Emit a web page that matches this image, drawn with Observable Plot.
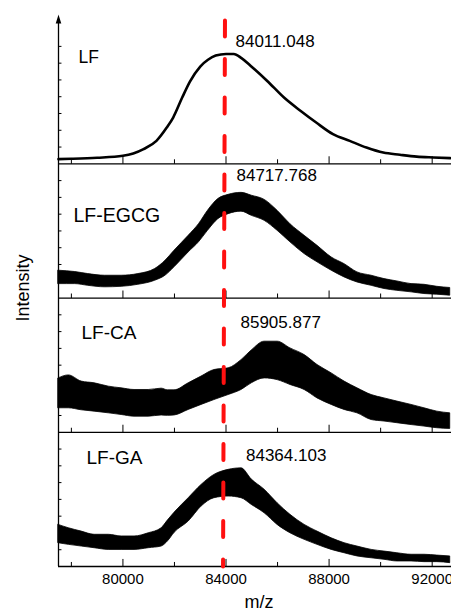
<!DOCTYPE html>
<html>
<head>
<meta charset="utf-8">
<script src="https://cdn.jsdelivr.net/npm/d3@7"></script>
<script src="https://cdn.jsdelivr.net/npm/@observablehq/plot@0.6"></script>
<style>
  html, body { margin: 0; padding: 0; background: #fff; }
  #chart svg { display: block; }
</style>
</head>
<body>
<div id="chart"></div>
<script>
// ---------------- data ----------------
const samples = ["LF", "LF-EGCG", "LF-CA", "LF-GA"];
const peakLabels = ["84011.048", "84717.768", "85905.877", "84364.103"];

// LF (smooth, thin trace)
const mzLF = [77500, 78000, 79000, 80000, 80400, 80800, 81300, 81700, 81950, 82300, 82600, 83000, 83300, 83600, 84000, 84300, 84600, 84950, 85600, 86250, 86900, 87500, 88150, 88800, 89450, 90100, 90750, 91400, 92050, 92700];
const intLF = [0.28, 0.30, 0.36, 0.48, 0.62, 0.88, 1.37, 2.16, 2.76, 3.95, 4.90, 5.80, 6.20, 6.45, 6.55, 6.55, 6.30, 5.85, 4.94, 3.95, 3.15, 2.46, 1.77, 1.37, 0.97, 0.67, 0.54, 0.43, 0.38, 0.34];

// LF-EGCG (noisy band: lower / upper envelope)
const mzEGCG = [77500, 78150, 78650, 79300, 79950, 80600, 81250, 81650, 82000, 82550, 82950, 83300, 83700, 84100, 84600, 85000, 85500, 86000, 86500, 87050, 87550, 88100, 88600, 89100, 89650, 90150, 90650, 91200, 91700, 92200, 92700];
const egcgLo = [0.83, 0.83, 0.73, 0.64, 0.67, 0.79, 1.03, 1.33, 1.83, 2.72, 3.32, 4.01, 4.70, 5.00, 5.15, 4.90, 4.60, 4.01, 3.32, 2.62, 2.13, 1.63, 1.23, 0.93, 0.73, 0.54, 0.43, 0.34, 0.24, 0.20, 0.14];
const egcgHi = [1.63, 1.55, 1.43, 1.33, 1.33, 1.43, 1.73, 2.22, 2.82, 3.71, 4.40, 5.20, 5.90, 6.15, 6.27, 6.10, 5.85, 5.20, 4.40, 3.71, 3.11, 2.42, 2.02, 1.53, 1.33, 1.13, 0.99, 0.83, 0.79, 0.67, 0.60];

// LF-CA and LF-GA share the same m/z reading positions
const mzCAGA = [77500, 77900, 78400, 78900, 79450, 79950, 80450, 81000, 81500, 81750, 82000, 82550, 83050, 83550, 84100, 84600, 85000, 85500, 86000, 86500, 87050, 87550, 88100, 88600, 89100, 89650, 90150, 90650, 91200, 91700, 92200, 92700];
const caLo = [1.43, 1.43, 1.31, 1.23, 1.13, 1.03, 0.93, 0.93, 1.00, 0.98, 1.00, 1.33, 1.63, 1.92, 2.22, 2.52, 2.92, 3.21, 3.11, 2.82, 2.52, 2.02, 1.63, 1.33, 1.13, 0.73, 0.64, 0.54, 0.43, 0.34, 0.24, 0.20];
const caHi = [3.21, 3.39, 3.02, 2.92, 2.72, 2.62, 2.52, 2.52, 2.60, 2.50, 2.50, 2.92, 3.32, 3.71, 3.81, 4.30, 4.88, 5.40, 5.40, 5.00, 4.60, 4.01, 3.51, 3.02, 2.62, 2.22, 2.02, 1.83, 1.63, 1.43, 1.23, 1.13];
const gaLo = [1.39, 1.29, 1.19, 1.09, 0.99, 0.99, 0.99, 1.09, 1.19, 1.50, 2.00, 2.68, 3.57, 4.07, 4.17, 4.07, 3.67, 3.17, 2.48, 1.98, 1.59, 1.29, 0.99, 0.79, 0.60, 0.49, 0.40, 0.30, 0.30, 0.26, 0.26, 0.20];
const gaHi = [2.48, 2.28, 2.08, 1.89, 1.89, 1.79, 1.79, 1.98, 2.28, 2.75, 3.20, 4.07, 4.86, 5.46, 5.76, 5.85, 5.18, 4.57, 3.77, 3.08, 2.48, 2.08, 1.68, 1.39, 1.19, 0.99, 0.89, 0.79, 0.70, 0.70, 0.65, 0.60];

// axis ticks
const xTickLabels = [80000, 84000, 88000, 92000];
const xMinorTicks = [78000, 82000, 86000, 90000];
const yMinorTicks = [1, 2, 3, 4, 5, 6, 7];
const xDomain = [77500, 92750];
// red dashed reference line (m/z at top and at bottom of the drawn line)
const refMz = [83960, 83885];

// ---------------- layout ----------------
const PANEL = 8;                               // intensity units per panel
const base = i => (samples.length - 1 - i) * PANEL;
const yTop = base(0) + 8.9;
const FONT = "'Liberation Sans', Arial, Helvetica, sans-serif";

const lfData = mzLF.map((m, i) => ({mz: m, y: intLF[i] + base(0)}));
const bandSets = [
  {i: 1, mz: mzEGCG, lo: egcgLo, hi: egcgHi},
  {i: 2, mz: mzCAGA, lo: caLo, hi: caHi},
  {i: 3, mz: mzCAGA, lo: gaLo, hi: gaHi}
];
const bandData = bandSets.map(s => s.mz.map((m, k) => ({mz: m, lo: s.lo[k] + base(s.i), hi: s.hi[k] + base(s.i)})));

const panelBases = samples.map((_, i) => base(i));
const yTickData = panelBases.flatMap(b => yMinorTicks.map(t => ({y: b + t})));
const xTickData = panelBases.flatMap(b => [
  ...xTickLabels.map(t => ({x: t, y1: b, y2: b + 0.45})),
  ...xMinorTicks.map(t => ({x: t, y1: b, y2: b + 0.27}))
]);

const arrowHead = {draw(ctx) { ctx.moveTo(0, 0); ctx.lineTo(2.8, 9); ctx.lineTo(-2.8, 9); ctx.closePath(); }};

const nameY = [6.33, 4.92, 5.95, 6.5];
const nameDx = [20, 15, 23, 28];
const nameSize = [17.5, 19.5, 19, 19];
const peakY = [7.29, 7.30, 6.54, 6.61];
const peakDx = [177, 178, 182, 187.5];

const plot = Plot.plot({
  width: 451,
  height: 616,
  marginLeft: 58,
  marginRight: 0,
  marginTop: 14,
  marginBottom: 50,
  style: {fontFamily: FONT, color: "#000", background: "#fff", overflow: "visible"},
  x: {domain: xDomain},
  y: {domain: [0, yTop], axis: null},
  marks: [
    // spectra
    ...bandData.map(d => Plot.areaY(d, {x: "mz", y1: "lo", y2: "hi", fill: "#000", stroke: "#000", strokeWidth: 0.8, curve: "monotone-x"})),
    Plot.line(lfData, {x: "mz", y: "y", stroke: "#000", strokeWidth: 2.6, curve: "monotone-x"}),
    // panel baselines
    Plot.ruleY(panelBases, {stroke: "#000", strokeWidth: 1.3}),
    // inward ticks on each baseline
    Plot.link(xTickData, {x1: "x", x2: "x", y1: "y1", y2: "y2", stroke: "#000", strokeWidth: 1}),
    // left axis with arrow
    Plot.ruleX([xDomain[0]], {y1: 0, y2: yTop - 0.3, stroke: "#000", strokeWidth: 1.3}),
    Plot.dot([{x: xDomain[0], y: yTop}], {x: "x", y: "y", symbol: arrowHead, r: 3, fill: "#000", stroke: "none"}),
    Plot.link(yTickData, {x1: () => xDomain[0], x2: () => xDomain[0] + 115, y1: "y", y2: "y", stroke: "#000", strokeWidth: 1}),
    // red dashed reference line
    Plot.link([refMz], {x1: d => d[0], x2: d => d[1], y1: () => yTop - 0.36, y2: () => 0,
      stroke: "#ff1010", strokeWidth: 4, strokeDasharray: "16,22.5", strokeLinecap: "round"}),
    // sample names
    ...samples.map((s, i) => Plot.text([s], {frameAnchor: "left", dx: nameDx[i], y: () => base(i) + nameY[i],
      text: d => d, textAnchor: "start", fontSize: nameSize[i], fill: "#000"})),
    // peak labels
    ...peakLabels.map((s, i) => Plot.text([s], {frameAnchor: "left", dx: peakDx[i], y: () => base(i) + peakY[i],
      text: d => d, textAnchor: "start", fontSize: 17, fill: "#000", letterSpacing: 0.3})),
    // bottom axis labels
    Plot.axisX({ticks: xTickLabels, tickSize: 0, tickPadding: 7, tickFormat: d3.format("d"), fontSize: 15, label: null}),
    Plot.text(["m/z"], {frameAnchor: "bottom", dx: 4, dy: 41, text: d => d, fontSize: 18, fill: "#000"}),
    Plot.text(["Intensity"], {frameAnchor: "left", dx: -35.5, y: () => 14.6, rotate: -90, text: d => d, fontSize: 18, fill: "#000"})
  ]
});

document.getElementById("chart").appendChild(plot);
</script>
</body>
</html>
